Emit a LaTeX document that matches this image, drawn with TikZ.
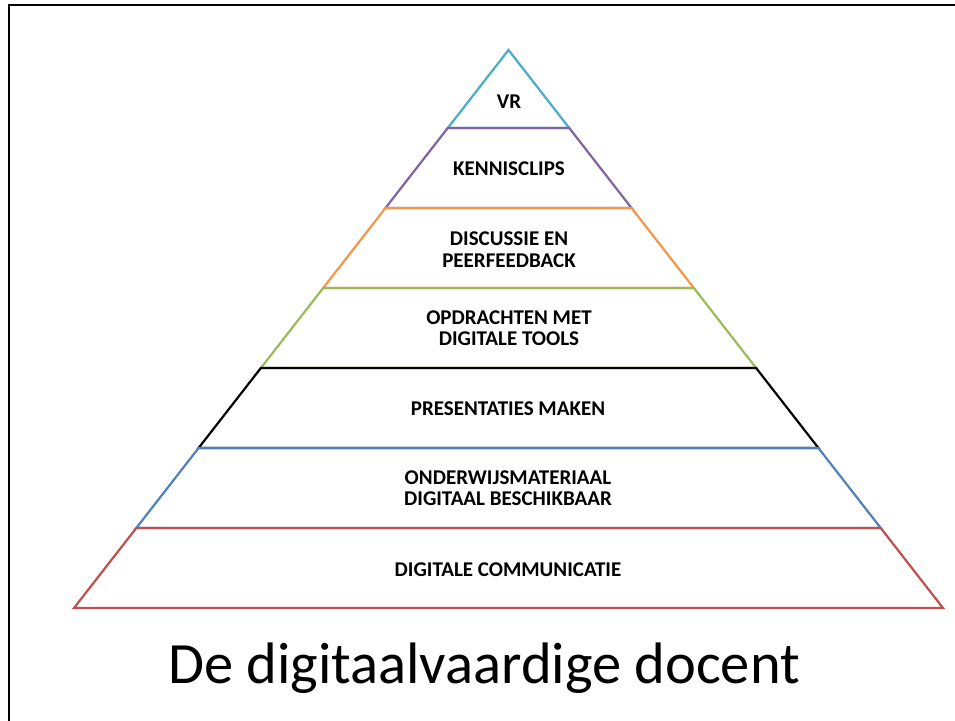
\documentclass[tikz,border=0pt]{standalone}
\usepackage{fontspec}
\setmainfont{Carlito}
\definecolor{cVR}{HTML}{4BACC6}
\definecolor{cKC}{HTML}{8064A2}
\definecolor{cDP}{HTML}{F79646}
\definecolor{cOD}{HTML}{9BBB59}
\definecolor{cPM}{HTML}{000000}
\definecolor{cOM}{HTML}{4F81BD}
\definecolor{cDC}{HTML}{C0504D}
\begin{document}
\begin{tikzpicture}[x=1pt,y=-1pt,
  lvl/.style={line width=2.2pt,line join=miter},
  lbl/.style={font=\fontsize{21}{21.5}\selectfont\bfseries,align=center,inner sep=0pt},
  ttl/.style={font=\fontsize{58.5}{64}\selectfont,inner sep=0pt}]
\useasboundingbox (0,0) rectangle (955,720);
\fill[white] (0,0) rectangle (955,720);
\draw[line width=2.6pt] (9,730) -- (9,5) -- (965,5);
% pyramid geometry: apex (508.5,50), base y=608 half width 434.5
\pgfmathsetmacro{\k}{434.5/558}
\foreach \name/\col/\ya/\yb in {p1/cVR/50/128, p2/cKC/128/208, p3/cDP/208/288, p4/cOD/288/368, p5/cPM/368/448, p6/cOM/448/528, p7/cDC/528/608}{
  \pgfmathsetmacro{\wa}{(\ya-50)*\k}
  \pgfmathsetmacro{\wb}{(\yb-50)*\k}
  \coordinate (\name tl) at (508.5-\wa,\ya);
  \coordinate (\name tr) at (508.5+\wa,\ya);
  \coordinate (\name bl) at (508.5-\wb,\yb);
  \coordinate (\name br) at (508.5+\wb,\yb);
  \draw[lvl,draw=\col] (\name tl) -- (\name tr) -- (\name br) -- (\name bl) -- cycle;
}
\node[lbl] (t1) at (509,102) {VR};
\node[lbl] (t2) at (509,169) {KENNISCLIPS};
\node[lbl] (t3) at (509,249.5) {DISCUSSIE EN\\PEERFEEDBACK};
\node[lbl] (t4) at (509,328) {OPDRACHTEN MET\\DIGITALE TOOLS};
\node[lbl] (t5) at (508,409) {PRESENTATIES MAKEN};
\node[lbl] (t6) at (508,488) {ONDERWIJSMATERIAAL\\DIGITAAL BESCHIKBAAR};
\node[lbl] (t7) at (508,570) {DIGITALE COMMUNICATIE};
\node[ttl,anchor=base] (title) at (484,683) {De digitaalvaardige docent};
\end{tikzpicture}
\end{document}
